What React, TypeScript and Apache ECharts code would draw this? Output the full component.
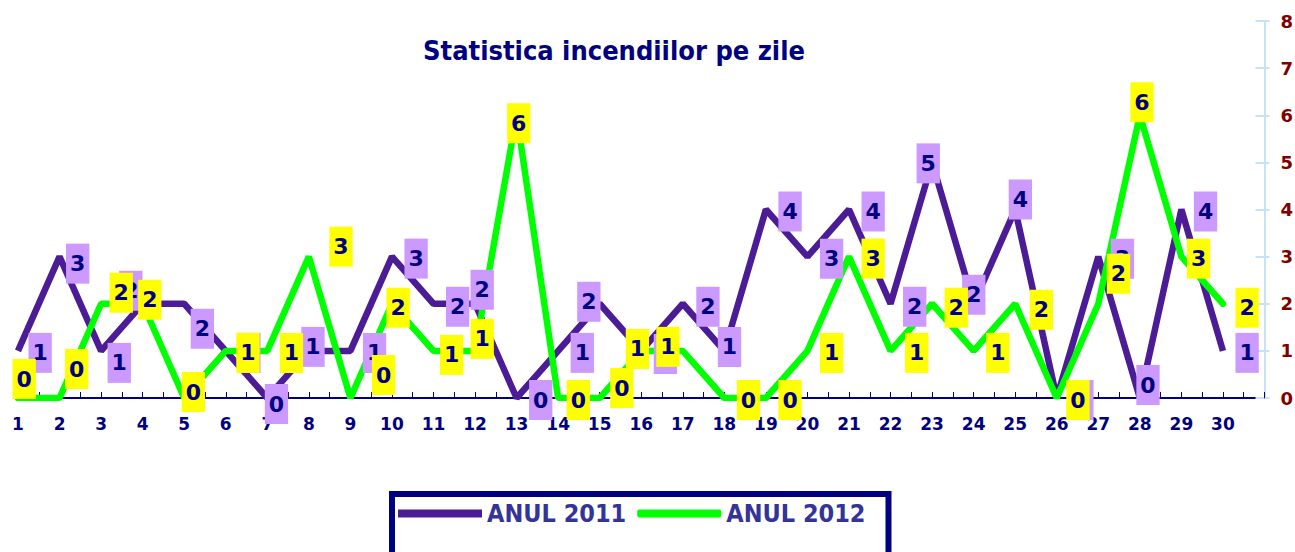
import React, { useEffect, useRef } from "react";
import * as echarts from "echarts";

// ---- data ----
const days = [1, 2, 3, 4, 5, 6, 7, 8, 9, 10, 11, 12, 13, 14, 15, 16, 17, 18, 19, 20, 21, 22, 23, 24, 25, 26, 27, 28, 29, 30];
const anul2011 = [1, 3, 1, 2, 2, 1, 0, 1, 1, 3, 2, 2, 0, 1, 2, 1, 2, 1, 4, 3, 4, 2, 5, 2, 4, 0, 3, 0, 4, 1];
const anul2012 = [0, 0, 2, 2, 0, 1, 1, 3, 0, 2, 1, 1, 6, 0, 0, 1, 1, 0, 0, 1, 3, 1, 2, 1, 2, 0, 2, 6, 3, 2];
const seriesNames = ["ANUL 2011", "ANUL 2012"];
const titleText = "Statistica incendiilor pe zile";

// ---- label nudges (hand-placed labels in the original) ----
const nudge2011 = [
  [-2, 0], [-6, 5], [-6, 10], [-36, -15], [-6, 23], [-1, 0], [-15, 4], [-20, -6], [0, 0], [0, 0],
  [0, 1], [-17, -16], [0, 0], [0, 0], [-35, -4], [0, 1], [1, 1], [-19, -6], [0, 0], [0, 0],
  [0, 0], [0, 1], [-28, -1], [-24, -11], [-19, -12], [1, 0], [0, 0], [-16, -15], [0, 0], [0, 0],
];
const nudge2012 = [
  [-18, -21], [-7, -31], [-4, -13], [-17, -6], [-15, -8], [-2, 0], [0, 0], [8, -12], [9, -25], [-18, 2],
  [-6, 2], [-17, -14], [-22, 6], [-4, 0], [-2, -12], [-28, -4], [-39, -6], [0, 0], [0, 0], [0, 0],
  [0, 0], [2, 0], [0, 2], [0, 0], [2, 4], [-3, 0], [-4, -32], [-22, -15], [-7, 0], [0, 2],
];

const PURPLE = "#4b1c96";
const GREEN = "#00ff00";
const NAVY = "#000080";
const FONT = "'DejaVu Sans', sans-serif";
const FONT_C = "'DejaVu Sans Condensed', 'DejaVu Sans', sans-serif";

function labelSeries(name: string, values: number[], nudges: number[][], bg: string, z: number) {
  return {
    name,
    type: "line",
    z,
    silent: true,
    data: days.map((d, i) => ({
      value: [d, values[i]],
      label: { offset: [nudges[i][0], nudges[i][1] + 2] },
    })),
    symbol: "circle",
    symbolSize: 1,
    showAllSymbol: true,
    lineStyle: { width: 0, opacity: 0 },
    itemStyle: { color: "rgba(0,0,0,0)" },
    label: {
      show: true,
      position: "right",
      distance: 12,
      formatter: (p: any) => String(p.value[1]),
      color: NAVY,
      fontFamily: FONT,
      fontWeight: "bold",
      fontSize: 22,
      lineHeight: 24,
      backgroundColor: bg,
      padding: [7, 4, 9, 4],
    },
    emphasis: { disabled: true },
  };
}

export default function App() {
  const ref = useRef<HTMLDivElement>(null);
  useEffect(() => {
    document.body.style.margin = "0";
    const chart = echarts.init(ref.current!, null, { renderer: "svg" });
    chart.setOption({
      animation: false,
      backgroundColor: "#ffffff",
      title: {
        text: titleText,
        left: 614,
        top: 37,
        padding: 0,
        textAlign: "center",
        textStyle: { color: NAVY, fontWeight: "bold", fontSize: 27, fontFamily: FONT_C },
      },
      legend: {
        data: [
          { name: seriesNames[0], icon: "rect" },
          { name: seriesNames[1], icon: "roundRect" },
        ],
        left: 392,
        top: 494,
        orient: "horizontal",
        itemWidth: 84,
        itemHeight: 8,
        itemGap: 11,
        padding: [7, 23, 60, 6],
        borderColor: NAVY,
        borderWidth: 6,
        backgroundColor: "#ffffff",
        selectedMode: false,
        textStyle: { color: "#333399", fontWeight: "bold", fontSize: 25, fontFamily: FONT_C },
      },
      grid: { left: 18, right: 30.5, top: 21, bottom: 154, outerBoundsMode: "none", containLabel: false },
      xAxis: {
        type: "value",
        min: 1,
        max: 31,
        interval: 1,
        splitLine: { show: false },
        axisLine: { show: true, onZero: false, lineStyle: { color: NAVY, width: 2 } },
        axisTick: { show: true, inside: true, length: 6, lineStyle: { color: NAVY, width: 1 } },
        minorTick: { show: true, splitNumber: 2, length: 6, lineStyle: { color: NAVY, width: 1 } },
        minorSplitLine: { show: false },
        axisLabel: {
          formatter: (v: number) => (v <= 30 ? String(v) : ""),
          color: NAVY,
          fontWeight: "bold",
          fontSize: 17,
          fontFamily: FONT,
          margin: 17,
          showMaxLabel: true,
        },
      },
      yAxis: [
        {
          type: "value",
          position: "right",
          min: 0,
          max: 8,
          interval: 1,
          splitLine: { show: false },
          axisLine: { show: true, onZero: false, lineStyle: { color: "#c6e2f8", width: 2 } },
          axisTick: { show: true, length: 5, lineStyle: { color: "#c6e2f8", width: 2 } },
          axisLabel: { color: "#800000", fontWeight: "bold", fontSize: 18, fontFamily: FONT, margin: 16 },
        },
        {
          type: "value",
          position: "right",
          min: 0,
          max: 8,
          interval: 1,
          splitLine: { show: false },
          axisLine: { show: false, onZero: false },
          axisTick: { show: true, inside: true, length: 9, lineStyle: { color: "#c6e2f8", width: 2 } },
          axisLabel: { show: false },
        },
      ],
      series: [
        {
          name: seriesNames[0],
          type: "line",
          z: 2,
          silent: true,
          data: days.map((d, i) => [d, anul2011[i]]),
          symbol: "none",
          color: PURPLE,
          lineStyle: { color: PURPLE, width: 6.5 },
          itemStyle: { color: PURPLE },
          emphasis: { disabled: true },
        },
        {
          name: seriesNames[1],
          type: "line",
          z: 3,
          silent: true,
          data: days.map((d, i) => [d, anul2012[i]]),
          symbol: "none",
          color: GREEN,
          lineStyle: { color: GREEN, width: 6.5, cap: "round" },
          itemStyle: { color: GREEN },
          emphasis: { disabled: true },
        },
        labelSeries("lbl2011", anul2011, nudge2011, "#cc99ff", 4),
        labelSeries("lbl2012", anul2012, nudge2012, "#ffff00", 5),
      ],
    });
    return () => chart.dispose();
  }, []);
  return <div ref={ref} style={{ width: 1295, height: 552 }} />;
}
